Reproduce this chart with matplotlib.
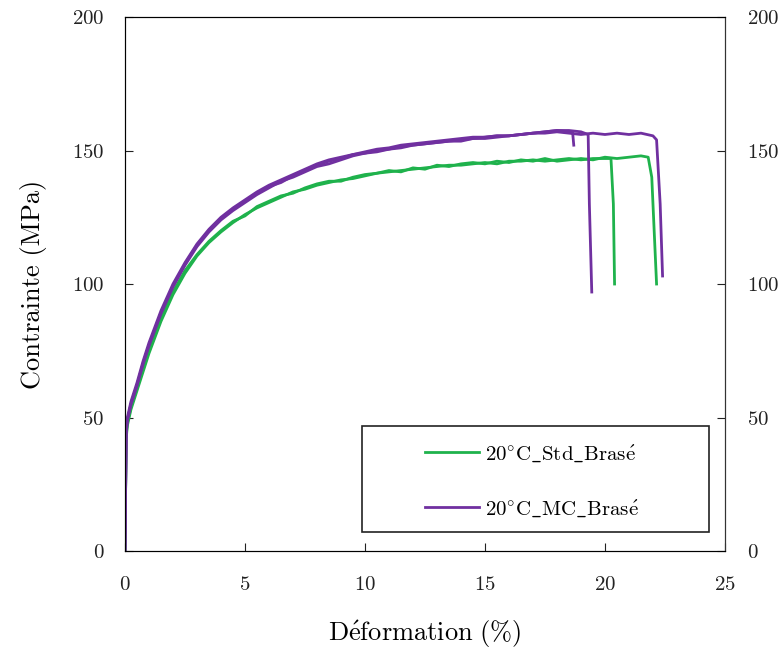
import matplotlib
matplotlib.use("Agg")
import matplotlib.pyplot as plt
from matplotlib.patches import Rectangle

plt.rcParams['font.family'] = ['cmr10', 'DejaVu Serif']
plt.rcParams['axes.formatter.use_mathtext'] = True
plt.rcParams['mathtext.fontset'] = 'cm'

# --- data (strain %, stress MPa) ---
std1_x = [0, 0.05, 0.1, 0.25, 0.5, 0.75, 1, 1.5, 2, 2.5, 3, 3.5, 4, 4.5, 5, 5.5, 6, 6.5, 7, 7.5,
          8, 8.5, 9, 9.5, 10, 10.5, 11, 11.5, 12, 12.5, 13, 13.5, 14, 14.5, 15, 15.5, 16, 16.5,
          17, 17.5, 18, 18.5, 19, 19.5, 20, 20.25, 20.35, 20.4]
std1_y = [0, 42, 47, 53, 60, 67, 74, 86, 96, 104, 110.5, 115.5, 119.5, 123, 126, 128.5, 130.5,
          132.5, 134.5, 135.5, 137, 138, 139, 139.5, 140.5, 141.5, 142, 142.5, 143, 143.5, 144,
          144.5, 144.5, 145, 145.5, 145, 146, 146, 146.5, 146, 146.5, 147, 146.5, 147, 147, 147,
          130, 100]

std2_x = [0, 0.05, 0.1, 0.25, 0.5, 0.75, 1, 1.5, 2, 2.5, 3, 3.5, 4, 4.5, 5, 5.5, 6, 6.5, 7, 7.5,
          8, 8.5, 9, 9.5, 10, 10.5, 11, 11.5, 12, 12.5, 13, 13.5, 14, 14.5, 15, 15.5, 16, 16.5,
          17, 17.5, 18, 18.5, 19, 19.5, 20, 20.5, 21, 21.5, 21.8, 21.95, 22.15]
std2_y = [0, 43, 48, 54, 61, 68, 75, 87, 97, 105, 111, 116, 120, 123.5, 125.5, 129, 131, 133,
          134, 136, 137.5, 138.5, 138.5, 140, 141, 141.5, 142.5, 142, 143.5, 143, 144.5, 144,
          145, 145.5, 145, 146, 145.5, 146.5, 146, 147, 146, 146.5, 147, 146.5, 147.5, 147,
          147.5, 148, 147.5, 140, 100]

mc1_x = [0, 0.05, 0.1, 0.25, 0.5, 0.75, 1, 1.5, 2, 2.5, 3, 3.5, 4, 4.5, 5, 5.5, 6, 6.5, 7, 7.5,
         8, 8.5, 9, 9.5, 10, 10.5, 11, 11.5, 12, 12.5, 13, 13.5, 14, 14.5, 15, 15.5, 16, 16.5,
         17, 17.5, 18, 18.5, 18.65, 18.7]
mc1_y = [0, 45, 50, 56, 63, 71, 78, 90, 100, 108, 115, 120.5, 125, 128.5, 131.5, 134.5, 137,
         139, 141, 143, 145, 146.5, 147.5, 148.5, 149.5, 150.5, 151, 152, 152.5, 153, 153.5,
         154, 154.5, 155, 155, 155.5, 155.5, 156, 156.5, 157, 157.5, 157, 157, 152]

mc2_x = [0, 0.05, 0.1, 0.25, 0.5, 0.75, 1, 1.5, 2, 2.5, 3, 3.5, 4, 4.5, 5, 5.5, 6, 6.5, 7, 7.5,
         8, 8.5, 9, 9.5, 10, 10.5, 11, 11.5, 12, 12.5, 13, 13.5, 14, 14.5, 15, 15.5, 16, 16.5,
         17, 17.5, 18, 18.5, 19, 19.3, 19.35, 19.45]
mc2_y = [0, 44, 49, 55, 62, 70, 77, 89, 99, 107, 114, 119.5, 124, 127.5, 130.5, 133.5, 136,
         138.5, 140, 142, 144, 145, 146.5, 148, 149, 150, 150.5, 151.5, 152, 152.5, 153, 153.5,
         154, 154.5, 154.5, 155, 155.5, 156, 156.5, 157, 157.5, 157.5, 157, 156, 130, 97]

mc3_x = [0, 0.05, 0.1, 0.25, 0.5, 0.75, 1, 1.5, 2, 2.5, 3, 3.5, 4, 4.5, 5, 5.5, 6, 6.5, 7, 7.5,
         8, 8.5, 9, 9.5, 10, 10.5, 11, 11.5, 12, 12.5, 13, 13.5, 14, 14.5, 15, 15.5, 16, 16.5,
         17, 17.5, 18, 18.5, 19, 19.5, 20, 20.5, 21, 21.5, 22, 22.15, 22.3, 22.4]
mc3_y = [0, 44, 49, 55, 62, 70, 77, 89, 99, 107.5, 114.5, 120, 124.5, 128, 131, 134, 136.5,
         138, 140.5, 142.5, 144.5, 146, 147, 148.5, 149, 149.5, 150.5, 151, 152, 152.5, 153,
         153.5, 153.5, 154.5, 155, 155.5, 155.5, 156, 156.5, 156.5, 157, 156.5, 156, 156.5,
         156, 156.5, 156, 156.5, 155.5, 154, 130, 103]

xticks = [0, 5, 10, 15, 20, 25]
yticks = [0, 50, 100, 150, 200]

green = '#1fb24c'
purple = '#7030a0'

fig = plt.figure(figsize=(7.84, 6.52), dpi=100)
ax = fig.add_axes([0.1594, 0.1549, 0.7653, 0.819])

ax.plot(std1_x, std1_y, color=green, lw=2, label=r'$\mathrm{20^{\circ}C\_Std\_Bras\acute{e}}$')
ax.plot(std2_x, std2_y, color=green, lw=2)
ax.plot(mc1_x, mc1_y, color=purple, lw=2, label=r'$\mathrm{20^{\circ}C\_MC\_Bras\acute{e}}$')
ax.plot(mc2_x, mc2_y, color=purple, lw=2)
ax.plot(mc3_x, mc3_y, color=purple, lw=2)

ax.set_xlim(0, 25)
ax.set_ylim(0, 200)
ax.set_xticks(xticks)
ax.set_yticks(yticks)
ax.tick_params(direction='in', length=6, labelsize=15, pad=15, colors='#222222')
ax.tick_params(axis='x', pad=18)
for s in ax.spines.values():
    s.set_color('#333333')

ax2 = ax.twinx()
ax2.set_ylim(0, 200)
ax2.set_yticks(yticks)
ax2.tick_params(direction='in', length=6, labelsize=15, pad=16, colors='#222222')
ax2.spines['right'].set_color('#333333')

ax.set_xlabel(r'$\mathrm{D\acute{e}formation\ (\%)}$', fontsize=19, labelpad=18)
ax.set_ylabel('Contrainte (MPa)', fontsize=19, labelpad=18)

# legend box
ax.add_patch(Rectangle((0.395, 0.036), 0.578, 0.198, transform=ax.transAxes,
                       fill=False, edgecolor='#222222', lw=1.2, zorder=5))
ax.legend(loc='upper left', bbox_to_anchor=(0.468, 0.238), frameon=False, fontsize=15,
          handlelength=2.6, handletextpad=0.3, labelspacing=1.65)

fig.savefig('out.png', dpi=100)
